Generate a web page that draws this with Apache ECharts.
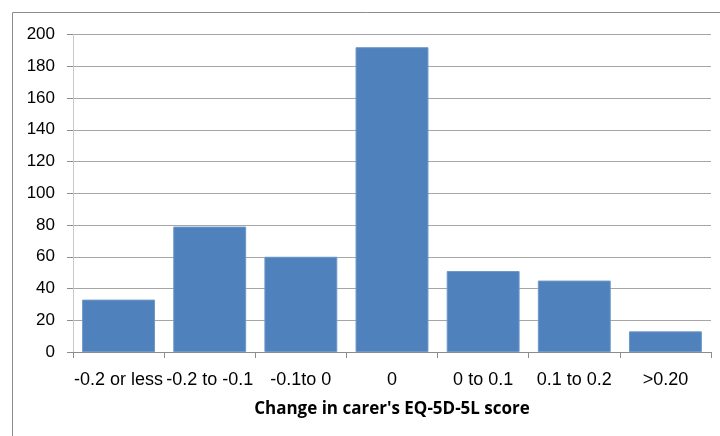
<!DOCTYPE html>
<html>
<head>
<meta charset="utf-8">
<script src="https://cdn.jsdelivr.net/npm/echarts@6/dist/echarts.min.js"></script>
<style>
  html, body { margin: 0; padding: 0; background: #fff; }
  #main { width: 720px; height: 436px; }
</style>
</head>
<body>
<div id="main"></div>
<script>
  var categorias = ['-0.2 or less', '-0.2 to -0.1', '-0.1to 0', '0', '0 to 0.1', '0.1 to 0.2', '>0.20'];
  var valores = [33, 79, 60, 192, 51, 45, 13];
  var yTicks = [0, 20, 40, 60, 80, 100, 120, 140, 160, 180, 200];

  var myChart = echarts.init(document.getElementById('main'));

  var option = {
    animation: false,
    textStyle: { fontFamily: 'Liberation Sans' },
    graphic: [
      {
        type: 'rect',
        shape: { x: 12.5, y: 12.5, width: 720, height: 440 },
        style: { fill: 'none', stroke: '#8c8c8c', lineWidth: 1 }
      }
    ],
    grid: { left: 73, right: 9, top: 34.5, bottom: 84 },
    xAxis: {
      type: 'category',
      data: categorias,
      name: "Change in carer's EQ-5D-5L score",
      nameLocation: 'middle',
      nameGap: 49,
      nameTextStyle: { fontSize: 17, fontWeight: 'bold', color: '#000', fontFamily: 'Open Sans' },
      axisLine: { lineStyle: { color: '#8c8c8c' } },
      axisTick: { show: true, length: 6, lineStyle: { color: '#8c8c8c' } },
      axisLabel: { interval: 0, fontSize: 18, color: '#000', margin: 19 }
    },
    yAxis: {
      type: 'value',
      min: yTicks[0],
      max: yTicks[yTicks.length - 1],
      interval: 20,
      axisLine: { show: true, lineStyle: { color: '#c8c8c8' } },
      axisTick: { show: true, length: 6, lineStyle: { color: '#8c8c8c' } },
      axisLabel: { fontSize: 17, color: '#000', margin: 18 },
      splitLine: { lineStyle: { color: '#a6a6a6' } }
    },
    series: [
      {
        type: 'bar',
        data: valores,
        barCategoryGap: '20%',
        itemStyle: { color: '#4f81bd', borderColor: '#6f98c9', borderWidth: 1 }
      }
    ]
  };

  myChart.setOption(option);
</script>
</body>
</html>
